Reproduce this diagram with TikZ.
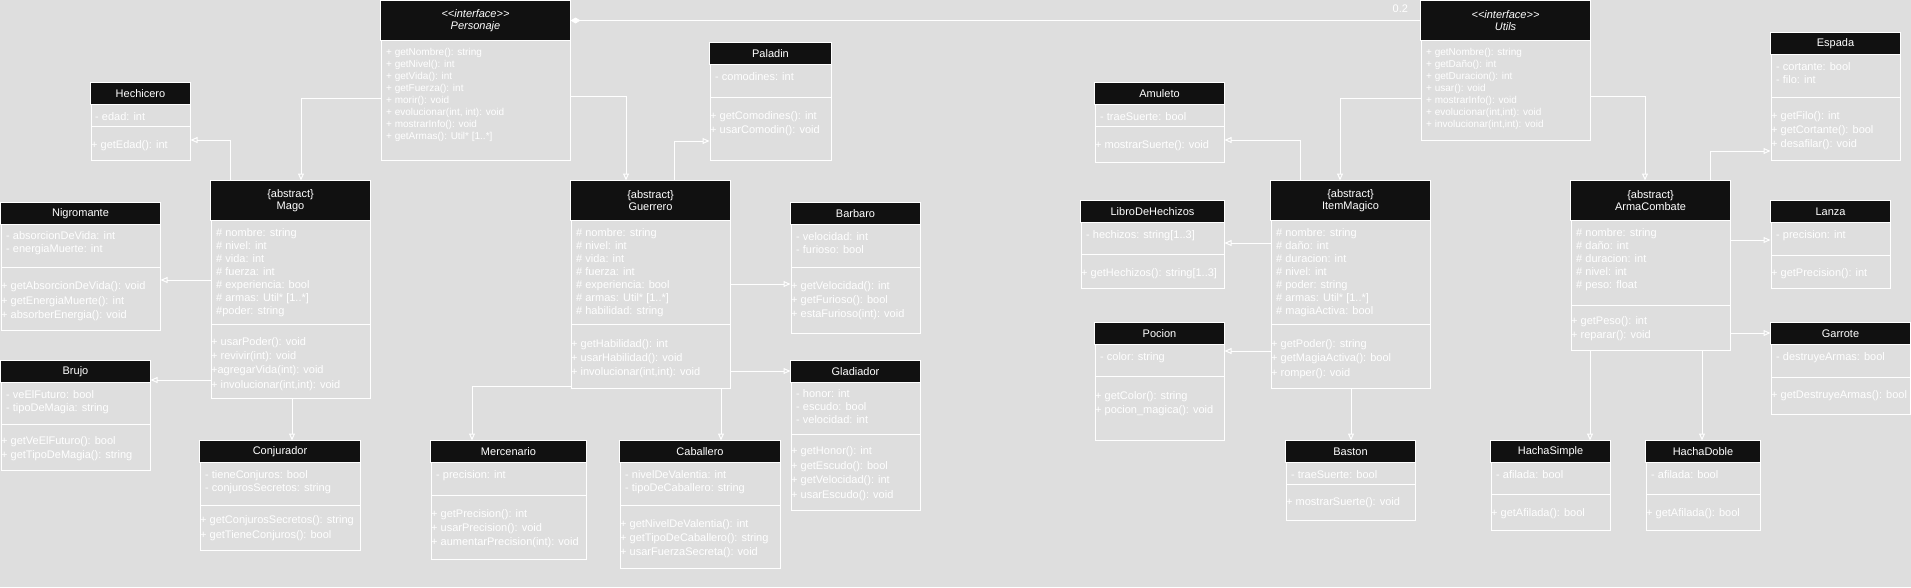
\documentclass[tikz,border=0pt]{standalone}
\usepackage{fontspec}
\setmainfont{Liberation Sans}[Ligatures=TeXOff]
\usetikzlibrary{arrows.meta,fit}
\definecolor{bggrey}{RGB}{222,222,222}
\definecolor{hdrblack}{RGB}{17,17,17}

\begin{document}
\begin{tikzpicture}[x=1pt, y=-1pt,
	cls/.style={draw=white, line width=1pt, inner sep=0pt},
	hdr/.style={draw=white, line width=1pt, fill=hdrblack},
	sep/.style={white, line width=1pt},
	ttl/.style={text=white, align=center, inner sep=0pt, font=\fontsize{11}{12.4}\selectfont},
	ittl/.style={ttl, font=\fontsize{11}{12}\selectfont\itshape},
	attr/.style={text=white, anchor=north west, align=left, inner sep=0pt, font=\fontsize{11}{13}\selectfont},
	meth/.style={attr, font=\fontsize{11}{14.4}\selectfont},
	imeth/.style={attr, font=\fontsize{10}{12}\selectfont},
	gen/.style={white, line width=1pt, -{Triangle[open, length=7pt, width=6pt]}},
	comp/.style={white, line width=1pt, {Diamond[length=10pt, width=6pt]}-}]
			%%%%% START %%%%%
			
			\fill[bggrey] (0, 0) rectangle (1911, 587);
			
			% Personaje
			\node[cls, fit={(381, 1) (570, 160)}] (personaje) {};
			\draw[hdr] (personaje.north west) rectangle (570, 40);
			\node[ittl] (personaje-t) at (475.5, 20.5) {<\kern0pt<interface>\kern0pt>\\Personaje};
			\node[imeth] (personaje-m) at (386, 48) {+ getNombre(): string\\+ getNivel(): int\\+ getVida(): int\\+ getFuerza(): int\\+ morir(): void\\+ evolucionar(int, int): void\\+ mostrarInfo(): void\\+ getArmas(): Util* [1..*]};
			
			% Mago
			\node[cls, fit={(211, 181) (370, 398)}] (mago) {};
			\draw[hdr] (mago.north west) rectangle (370, 220);
			\draw[sep] (211, 324) -- (370, 324);
			\node[ttl] (mago-t) at (290.5, 200.5) {\{abstract\}\\Mago};
			\node[attr] (mago-a) at (216, 228) {\# nombre: string\\\# nivel: int\\\# vida: int\\\# fuerza: int\\\# experiencia: bool\\\# armas: Util* [1..*]\\\#poder: string};
			\node[meth] (mago-m) at (211, 337) {+ usarPoder(): void\\+ revivir(int): void\\+agregarVida(int): void\\+ involucionar(int,int): void};
			
			% Hechicero
			\node[cls, fit={(91, 83) (190, 160)}] (hechicero) {};
			\draw[hdr] (hechicero.north west) rectangle (190, 104);
			\draw[sep] (91, 126) -- (190, 126);
			\node[ttl] (hechicero-t) at (140.5, 93.5) {Hechicero};
			\node[attr] (hechicero-a) at (95, 112) {- edad: int};
			\node[meth] (hechicero-m) at (91, 140) {+ getEdad(): int};
			
			% Nigromante
			\node[cls, fit={(1, 203) (160, 330)}] (nigromante) {};
			\draw[hdr] (nigromante.north west) rectangle (160, 224);
			\draw[sep] (1, 267) -- (160, 267);
			\node[ttl] (nigromante-t) at (80.5, 213.5) {Nigromante};
			\node[attr] (nigromante-a) at (6, 231.7) {- absorcionDeVida: int\\- energiaMuerte: int};
			\node[meth] (nigromante-m) at (1, 281.7) {+ getAbsorcionDeVida(): void\\+ getEnergiaMuerte(): int\\+ absorberEnergia(): void};
			
			% Brujo
			\node[cls, fit={(1, 361) (150, 470)}] (brujo) {};
			\draw[hdr] (brujo.north west) rectangle (150, 382);
			\draw[sep] (1, 424) -- (150, 424);
			\node[ttl] (brujo-t) at (75.5, 371.5) {Brujo};
			\node[attr] (brujo-a) at (6, 390.3) {- veElFuturo: bool\\- tipoDeMagia: string};
			\node[meth] (brujo-m) at (1, 436.3) {+ getVeElFuturo(): bool\\+ getTipoDeMagia(): string};
			
			% Conjurador
			\node[cls, fit={(200, 441) (360, 550)}] (conjurador) {};
			\draw[hdr] (conjurador.north west) rectangle (360, 462);
			\draw[sep] (200, 505) -- (360, 505);
			\node[ttl] (conjurador-t) at (280, 451.5) {Conjurador};
			\node[attr] (conjurador-a) at (205, 470.3) {- tieneConjuros: bool\\- conjurosSecretos: string};
			\node[meth] (conjurador-m) at (200, 515.7) {+ getConjurosSecretos(): string\\+ getTieneConjuros(): bool};
			
			% Guerrero
			\node[cls, fit={(571, 181) (730, 388)}] (guerrero) {};
			\draw[hdr] (guerrero.north west) rectangle (730, 220);
			\draw[sep] (571, 324) -- (730, 324);
			\node[ttl] (guerrero-t) at (650.5, 200.5) {\{abstract\}\\Guerrero};
			\node[attr] (guerrero-a) at (576, 228.3) {\# nombre: string\\\# nivel: int\\\# vida: int\\\# fuerza: int\\\# experiencia: bool\\\# armas: Util* [1..*]\\\# habilidad: string};
			\node[meth] (guerrero-m) at (571, 339) {+ getHabilidad(): int\\+ usarHabilidad(): void\\+ involucionar(int,int): void};
			
			% Paladin
			\node[cls, fit={(710, 43) (831, 160)}] (paladin) {};
			\draw[hdr] (paladin.north west) rectangle (831, 64);
			\draw[sep] (710, 97) -- (831, 97);
			\node[ttl] (paladin-t) at (770.5, 53.5) {Paladin};
			\node[attr] (paladin-a) at (715, 72.3) {- comodines: int};
			\node[meth] (paladin-m) at (710, 111.3) {+ getComodines(): int\\+ usarComodin(): void};
			
			% Barbaro
			\node[cls, fit={(791, 203) (920, 333)}] (barbaro) {};
			\draw[hdr] (barbaro.north west) rectangle (920, 224);
			\draw[sep] (791, 267) -- (920, 267);
			\node[ttl] (barbaro-t) at (855.5, 213.5) {Barbaro};
			\node[attr] (barbaro-a) at (796, 232) {- velocidad: int\\- furioso: bool};
			\node[meth] (barbaro-m) at (791, 281) {+ getVelocidad(): int\\+ getFurioso(): bool\\+ estaFurioso(int): void};
			
			% Gladiador
			\node[cls, fit={(791, 361) (920, 510)}] (gladiador) {};
			\draw[hdr] (gladiador.north west) rectangle (920, 382);
			\draw[sep] (791, 434) -- (920, 434);
			\node[ttl] (gladiador-t) at (855.5, 371.5) {Gladiador};
			\node[attr] (gladiador-a) at (796, 389.7) {- honor: int\\- escudo: bool\\- velocidad: int};
			\node[meth] (gladiador-m) at (791, 446.7) {+ getHonor(): int\\+ getEscudo(): bool\\+ getVelocidad(): int\\+ usarEscudo(): void};
			
			% Mercenario
			\node[cls, fit={(431, 441) (586, 559)}] (mercenario) {};
			\draw[hdr] (mercenario.north west) rectangle (586, 462);
			\draw[sep] (431, 495) -- (586, 495);
			\node[ttl] (mercenario-t) at (508.5, 451.5) {Mercenario};
			\node[attr] (mercenario-a) at (436, 470.3) {- precision: int};
			\node[meth] (mercenario-m) at (431, 509) {+ getPrecision(): int\\+ usarPrecision(): void\\+ aumentarPrecision(int): void};
			
			% Caballero
			\node[cls, fit={(620, 441) (780, 568)}] (caballero) {};
			\draw[hdr] (caballero.north west) rectangle (780, 462);
			\draw[sep] (620, 505) -- (780, 505);
			\node[ttl] (caballero-t) at (700, 451.5) {Caballero};
			\node[attr] (caballero-a) at (625, 470.3) {- nivelDeValentia: int\\- tipoDeCaballero: string};
			\node[meth] (caballero-m) at (620, 519) {+ getNivelDeValentia(): int\\+ getTipoDeCaballero(): string\\+ usarFuerzaSecreta(): void};
			
			% Utils
			\node[cls, fit={(1421, 1) (1590, 140)}] (utils) {};
			\draw[hdr] (utils.north west) rectangle (1590, 40);
			\node[ittl] (utils-t) at (1505.5, 20.5) {<\kern0pt<interface>\kern0pt>\\Utils};
			\node[imeth] (utils-m) at (1426, 47.7) {+ getNombre(): string\\+ getDaño(): int\\+ getDuracion(): int\\+ usar(): void\\+ mostrarInfo(): void\\+ evolucionar(int,int): void\\+ involucionar(int,int): void};
			
			% ItemMagico
			\node[cls, fit={(1271, 181) (1430, 388)}] (itemmagico) {};
			\draw[hdr] (itemmagico.north west) rectangle (1430, 220);
			\draw[sep] (1271, 324) -- (1430, 324);
			\node[ttl] (itemmagico-t) at (1350.5, 200.5) {\{abstract\}\\ItemMagico};
			\node[attr] (itemmagico-a) at (1276, 228.3) {\# nombre: string\\\# daño: int\\\# duracion: int\\\# nivel: int\\\# poder: string\\\# armas: Util* [1..*]\\\# magiaActiva: bool};
			\node[meth] (itemmagico-m) at (1271, 339.3) {+ getPoder(): string\\+ getMagiaActiva(): bool\\+ romper(): void};
			
			% Amuleto
			\node[cls, fit={(1095, 83) (1224, 162)}] (amuleto) {};
			\draw[hdr] (amuleto.north west) rectangle (1224, 104);
			\draw[sep] (1095, 126) -- (1224, 126);
			\node[ttl] (amuleto-t) at (1159.5, 93.5) {Amuleto};
			\node[attr] (amuleto-a) at (1100, 112) {- traeSuerte: bool};
			\node[meth] (amuleto-m) at (1095, 140) {+ mostrarSuerte(): void};
			
			% LibroDeHechizos
			\node[cls, fit={(1081, 201) (1224, 288)}] (libro) {};
			\draw[hdr] (libro.north west) rectangle (1224, 222);
			\draw[sep] (1081, 254) -- (1224, 254);
			\node[ttl] (libro-t) at (1152.5, 211.5) {LibroDeHechizos};
			\node[attr] (libro-a) at (1086, 230) {- hechizos: string[1..3]};
			\node[meth] (libro-m) at (1081, 268.3) {+ getHechizos(): string[1..3]};
			
			% Pocion
			\node[cls, fit={(1095, 323) (1224, 440)}] (pocion) {};
			\draw[hdr] (pocion.north west) rectangle (1224, 344);
			\draw[sep] (1095, 376) -- (1224, 376);
			\node[ttl] (pocion-t) at (1159.5, 333.5) {Pocion};
			\node[attr] (pocion-a) at (1100, 352.3) {- color: string};
			\node[meth] (pocion-m) at (1095, 391.3) {+ getColor(): string\\+ pocion\_magica(): void};
			
			% Baston
			\node[cls, fit={(1286, 441) (1415, 520)}] (baston) {};
			\draw[hdr] (baston.north west) rectangle (1415, 462);
			\draw[sep] (1286, 484) -- (1415, 484);
			\node[ttl] (baston-t) at (1350.5, 451.5) {Baston};
			\node[attr] (baston-a) at (1291, 470) {- traeSuerte: bool};
			\node[meth] (baston-m) at (1286, 497.7) {+ mostrarSuerte(): void};
			
			% ArmaCombate
			\node[cls, fit={(1571, 181) (1730, 350)}] (armacombate) {};
			\draw[hdr] (armacombate.north west) rectangle (1730, 220);
			\draw[sep] (1571, 305) -- (1730, 305);
			\node[ttl] (armacombate-t) at (1650.5, 200.5) {\{abstract\}\\ArmaCombate};
			\node[attr] (armacombate-a) at (1576, 228.3) {\# nombre: string\\\# daño: int\\\# duracion: int\\\# nivel: int\\\# peso: float};
			\node[meth] (armacombate-m) at (1571, 316) {+ getPeso(): int\\+ reparar(): void};
			
			% Espada
			\node[cls, fit={(1771, 33) (1900, 160)}] (espada) {};
			\draw[hdr] (espada.north west) rectangle (1900, 54);
			\draw[sep] (1771, 97) -- (1900, 97);
			\node[ttl] (espada-t) at (1835.5, 43.5) {Espada};
			\node[attr] (espada-a) at (1776, 62) {- cortante: bool\\- filo: int};
			\node[meth] (espada-m) at (1771, 111) {+ getFilo(): int\\+ getCortante(): bool\\+ desafilar(): void};
			
			% Lanza
			\node[cls, fit={(1771, 201) (1890, 288)}] (lanza) {};
			\draw[hdr] (lanza.north west) rectangle (1890, 222);
			\draw[sep] (1771, 255) -- (1890, 255);
			\node[ttl] (lanza-t) at (1830.5, 211.5) {Lanza};
			\node[attr] (lanza-a) at (1776, 230.3) {- precision: int};
			\node[meth] (lanza-m) at (1771, 268) {+ getPrecision(): int};
			
			% Garrote
			\node[cls, fit={(1771, 323) (1910, 414)}] (garrote) {};
			\draw[hdr] (garrote.north west) rectangle (1910, 344);
			\draw[sep] (1771, 377) -- (1910, 377);
			\node[ttl] (garrote-t) at (1840.5, 333.5) {Garrote};
			\node[attr] (garrote-a) at (1776, 352.3) {- destruyeArmas: bool};
			\node[meth] (garrote-m) at (1771, 390.3) {+ getDestruyeArmas(): bool};
			
			% HachaSimple
			\node[cls, fit={(1491, 441) (1610, 530)}] (hachasimple) {};
			\draw[hdr] (hachasimple.north west) rectangle (1610, 462);
			\draw[sep] (1491, 494) -- (1610, 494);
			\node[ttl] (hachasimple-t) at (1550.5, 451.5) {HachaSimple};
			\node[attr] (hachasimple-a) at (1496, 470.3) {- afilada: bool};
			\node[meth] (hachasimple-m) at (1491, 508.3) {+ getAfilada(): bool};
			
			% HachaDoble
			\node[cls, fit={(1646, 441) (1760, 530)}] (hachadoble) {};
			\draw[hdr] (hachadoble.north west) rectangle (1760, 462);
			\draw[sep] (1646, 494) -- (1760, 494);
			\node[ttl] (hachadoble-t) at (1703, 451.5) {HachaDoble};
			\node[attr] (hachadoble-a) at (1651, 470.3) {- afilada: bool};
			\node[meth] (hachadoble-m) at (1646, 508.3) {+ getAfilada(): bool};
			
			% connectors
			\draw[comp] (personaje.east |- 0, 20.5) -- (utils.west |- 0, 20.5) node[ttl, anchor=south east, xshift=-12pt, yshift=7pt] (mult) {0.2};
			
			\draw[gen] (personaje.west |- 0, 98) -| (mago.north -| 301, 0);
			\draw[gen] (personaje.east |- 0, 96) -| (guerrero.north -| 626, 0);
			\draw[gen] (mago.north -| 230, 0) |- (hechicero.east |- 0, 140);
			\draw[gen] (mago.west |- 0, 280) -- (nigromante.east |- 0, 280);
			\draw[gen] (mago.west |- 0, 380) -- (brujo.east |- 0, 380);
			\draw[gen] (mago.south -| 292, 0) -- (conjurador.north -| 292, 0);
			
			\draw[gen] (guerrero.north -| 674, 0) |- (paladin.west |- 0, 141);
			\draw[gen] (guerrero.east |- 0, 284) -- (barbaro.west |- 0, 284);
			\draw[gen] (guerrero.east |- 0, 371) -- (gladiador.west |- 0, 371);
			\draw[gen] (guerrero.west |- 0, 386) -| (mercenario.north -| 472, 0);
			\draw[gen] (guerrero.south -| 721, 0) -- (caballero.north -| 721, 0);
			
			\draw[gen] (utils.west |- 0, 98) -| (itemmagico.north -| 1340, 0);
			\draw[gen] (utils.east |- 0, 96) -| (armacombate.north -| 1645, 0);
			
			\draw[gen] (itemmagico.north -| 1300, 0) |- (amuleto.east |- 0, 140);
			\draw[gen] (itemmagico.west |- 0, 243) -- (libro.east |- 0, 243);
			\draw[gen] (itemmagico.west |- 0, 351) -- (pocion.east |- 0, 351);
			\draw[gen] (itemmagico.south -| 1351, 0) -- (baston.north -| 1351, 0);
			
			\draw[gen] (armacombate.north -| 1710, 0) |- (espada.west |- 0, 151);
			\draw[gen] (armacombate.east |- 0, 240) -- (lanza.west |- 0, 240);
			\draw[gen] (armacombate.east |- 0, 333) -- (garrote.west |- 0, 333);
			\draw[gen] (armacombate.south -| 1590, 0) -- (hachasimple.north -| 1590, 0);
			\draw[gen] (armacombate.south -| 1702, 0) -- (hachadoble.north -| 1702, 0);
			
			%%%%% END %%%%%
\end{tikzpicture}
\end{document}
